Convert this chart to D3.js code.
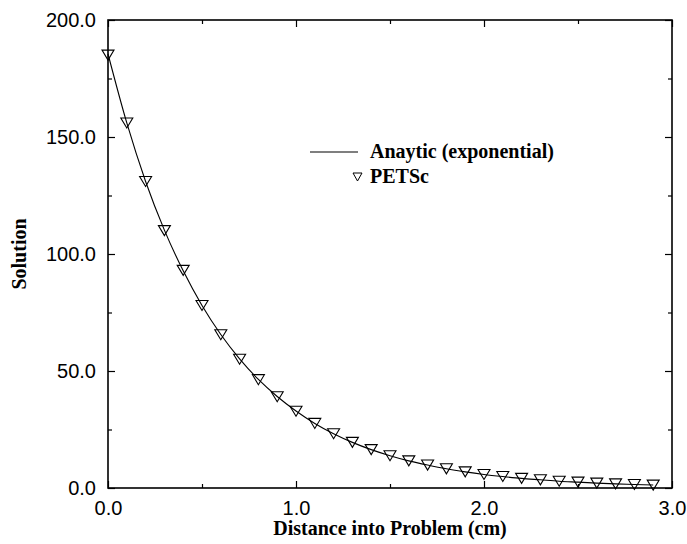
<!DOCTYPE html>
<html>
<head>
<meta charset="utf-8">
<script src="https://cdn.jsdelivr.net/npm/d3@7"></script>
<style>
  body { margin: 0; background: #fff; }
  svg { display: block; }
</style>
</head>
<body>
<div id="chart"></div>
<script>
// Data
const distance = [0.0, 0.1, 0.2, 0.3, 0.4, 0.5, 0.6, 0.7, 0.8, 0.9,
                  1.0, 1.1, 1.2, 1.3, 1.4, 1.5, 1.6, 1.7, 1.8, 1.9,
                  2.0, 2.1, 2.2, 2.3, 2.4, 2.5, 2.6, 2.7, 2.8, 2.9];
const petscValues = [185, 156, 131, 110, 93, 78, 65.5, 55, 46.3, 39,
                     32.8, 27.6, 23.2, 19.5, 16.4, 13.8, 11.6, 9.8, 8.2, 6.9,
                     5.8, 4.9, 4.1, 3.5, 2.9, 2.5, 2.1, 1.75, 1.5, 1.25];
const analyticValues = [185.5, 156, 131, 110.2, 92.8, 78, 65.6, 55.2, 46.4, 39.1,
                        32.9, 27.6, 23.2, 19.5, 16.4, 13.8, 11.6, 9.8, 8.2, 6.9,
                        5.8, 4.9, 4.1, 3.5, 2.9, 2.5, 2.1, 1.75, 1.5, 1.25];
const xTicks = [0, 1, 2, 3];
const xMinorTicks = [0.5, 1.5, 2.5];
const yTicks = [0, 50, 100, 150, 200];
const yMinorTicks = [25, 75, 125, 175];
const legendLabels = ['Anaytic (exponential)', 'PETSc'];

const width = 687;
const height = 544;
const margins = { top: 20, right: 15, bottom: 56, left: 108 };
const innerWidth = width - margins.left - margins.right;
const innerHeight = height - margins.top - margins.bottom;

const svg = d3.select('#chart')
    .append('svg')
    .attr('width', width)
    .attr('height', height);

const g = svg.append('g')
    .attr('transform', `translate(${margins.left},${margins.top})`);

const xScale = d3.scaleLinear().domain([0, 3]).range([0, innerWidth]);
const yScale = d3.scaleLinear().domain([0, 200]).range([innerHeight, 0]);

const tickFont = '"Liberation Sans", Arial, Helvetica, sans-serif';
const titleFont = '"Liberation Serif", "Times New Roman", Times, serif';

function styleAxis(sel) {
    sel.select('.domain').remove();
    sel.selectAll('line').attr('stroke', '#000').attr('stroke-width', 1.2);
    sel.selectAll('text')
        .attr('fill', '#000')
        .style('font-family', tickFont)
        .style('font-size', '20px');
}

// Major ticks, all pointing inward
g.append('g')
    .attr('transform', `translate(0,${innerHeight})`)
    .call(d3.axisBottom(xScale).tickValues(xTicks).tickFormat(d3.format('.1f'))
        .tickSizeInner(-7).tickSizeOuter(0).tickPadding(13))
    .call(styleAxis);

g.append('g')
    .call(d3.axisTop(xScale).tickValues(xTicks).tickFormat('')
        .tickSizeInner(-7).tickSizeOuter(0))
    .call(styleAxis);

g.append('g')
    .call(d3.axisLeft(yScale).tickValues(yTicks).tickFormat(d3.format('.1f'))
        .tickSizeInner(-7).tickSizeOuter(0).tickPadding(12))
    .call(styleAxis);

g.append('g')
    .attr('transform', `translate(${innerWidth},0)`)
    .call(d3.axisRight(yScale).tickValues(yTicks).tickFormat('')
        .tickSizeInner(-7).tickSizeOuter(0))
    .call(styleAxis);

// Minor ticks
g.append('g')
    .attr('transform', `translate(0,${innerHeight})`)
    .call(d3.axisBottom(xScale).tickValues(xMinorTicks).tickFormat('').tickSizeInner(-4).tickSizeOuter(0))
    .call(styleAxis);
g.append('g')
    .call(d3.axisTop(xScale).tickValues(xMinorTicks).tickFormat('').tickSizeInner(-4).tickSizeOuter(0))
    .call(styleAxis);
g.append('g')
    .call(d3.axisLeft(yScale).tickValues(yMinorTicks).tickFormat('').tickSizeInner(-4).tickSizeOuter(0))
    .call(styleAxis);
g.append('g')
    .attr('transform', `translate(${innerWidth},0)`)
    .call(d3.axisRight(yScale).tickValues(yMinorTicks).tickFormat('').tickSizeInner(-4).tickSizeOuter(0))
    .call(styleAxis);

// Frame
g.append('rect')
    .attr('x', 0)
    .attr('y', 0)
    .attr('width', innerWidth)
    .attr('height', innerHeight)
    .attr('fill', 'none')
    .attr('stroke', '#000')
    .attr('stroke-width', 1.6);

// Analytic curve
const line = d3.line()
    .x((d, i) => xScale(distance[i]))
    .y(d => yScale(d))
    .curve(d3.curveMonotoneX);

g.append('path')
    .datum(analyticValues)
    .attr('d', line)
    .attr('fill', 'none')
    .attr('stroke', '#000')
    .attr('stroke-width', 1.1);

// PETSc markers (downward triangles)
const triangle = (cx, cy, w, h) =>
    `M${cx - w / 2},${cy - h / 2}L${cx + w / 2},${cy - h / 2}L${cx},${cy + h / 2}Z`;

g.selectAll('.marker')
    .data(petscValues)
    .enter()
    .append('path')
    .attr('class', 'marker')
    .attr('d', (d, i) => triangle(xScale(distance[i]), yScale(d), 12, 10))
    .attr('fill', 'none')
    .attr('stroke', '#000')
    .attr('stroke-width', 1.1);

// Axis titles
svg.append('text')
    .attr('x', margins.left + innerWidth / 2)
    .attr('y', 535)
    .attr('text-anchor', 'middle')
    .style('font-family', titleFont)
    .style('font-weight', 'bold')
    .style('font-size', '20px')
    .text('Distance into Problem (cm)');

svg.append('text')
    .attr('transform', `translate(26,${margins.top + innerHeight / 2}) rotate(-90)`)
    .attr('text-anchor', 'middle')
    .style('font-family', titleFont)
    .style('font-weight', 'bold')
    .style('font-size', '20px')
    .text('Solution');

// Legend
const legend = svg.append('g');
legend.append('line')
    .attr('x1', 310).attr('x2', 358)
    .attr('y1', 152).attr('y2', 152)
    .attr('stroke', '#000')
    .attr('stroke-width', 1.1);
legend.append('path')
    .attr('d', triangle(357.5, 177, 9, 8))
    .attr('fill', 'none')
    .attr('stroke', '#000')
    .attr('stroke-width', 1);
legend.selectAll('text')
    .data(legendLabels)
    .enter()
    .append('text')
    .attr('x', 370)
    .attr('y', (d, i) => 158 + i * 25)
    .style('font-family', titleFont)
    .style('font-weight', 'bold')
    .style('font-size', '20px')
    .text(d => d);
</script>
</body>
</html>
